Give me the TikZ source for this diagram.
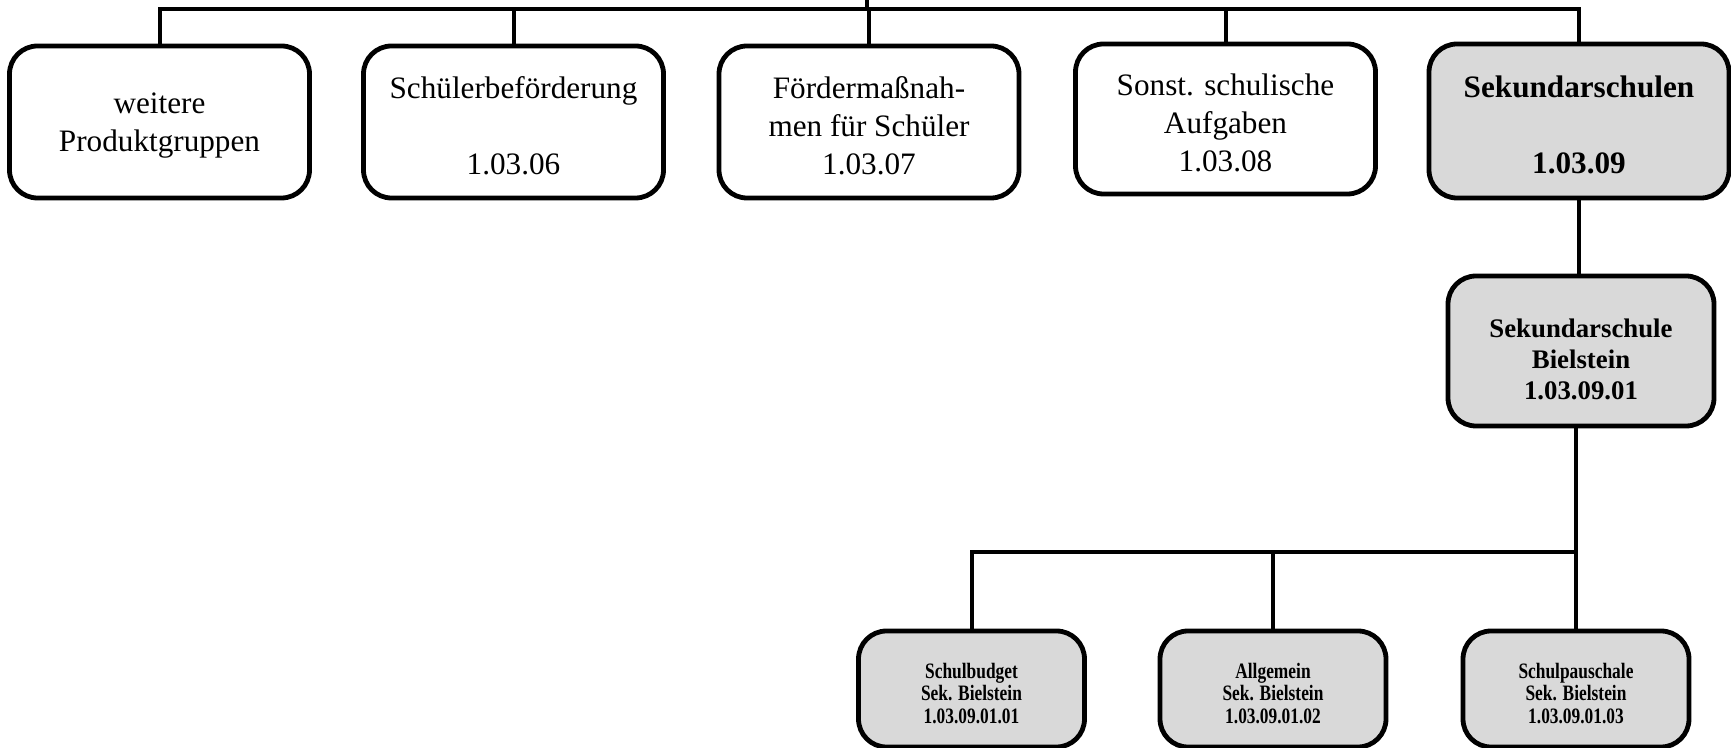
\documentclass[tikz,border=0pt]{standalone}
\usepackage{fontspec}
\setmainfont{Liberation Serif}
\definecolor{boxgray}{HTML}{D9D9D9}
\begin{document}
\begin{tikzpicture}[x=0.5pt,y=-0.5pt,
  pbox/.style={draw=black, line width=2.4pt, rounded corners=14pt, inner sep=0pt},
  upper/.style={pbox, minimum width=150pt, minimum height=76pt},
  shaded/.style={fill=boxgray},
  mid/.style={pbox, shaded, minimum width=133pt, minimum height=75pt},
  leaf/.style={pbox, shaded, minimum width=113pt, minimum height=58pt},
  toptext/.style={align=center, inner sep=0pt, yshift=-1.8pt,
    font=\fontsize{15.6}{19}\selectfont},
  topbold/.style={toptext, font=\bfseries\fontsize{15.6}{19}\selectfont},
  midtext/.style={align=center, inner sep=0pt, yshift=-4pt,
    font=\bfseries\fontsize{13.4}{15.5}\selectfont},
  leaftext/.style={align=center, inner sep=0pt, yshift=-2.2pt,
    font=\bfseries\fontsize{11}{11.3}\selectfont\addfontfeature{FakeStretch=0.79}},
  link/.style={line width=2pt}]
\useasboundingbox (0,0) rectangle (1731,748);

% product groups
\node[upper, label={[toptext]center:{weitere\\Produktgruppen}}] (b1) at (159.5,122) {};
\node[upper, label={[toptext]center:{Schülerbeförderung\\\mbox{}\\1.03.06}}] (b2) at (513.5,122) {};
\node[upper, label={[toptext]center:{Fördermaßnah-\\men für Schüler\\1.03.07}}] (b3) at (869,122) {};
\node[upper, minimum height=75pt,
  label={[toptext]center:{Sonst. schulische\\Aufgaben\\1.03.08}}] (b4) at (1225.5,119) {};
\node[upper, shaded, minimum height=77pt,
  label={[topbold]center:{Sekundarschulen\\\mbox{}\\1.03.09}}] (b5) at (1579,121) {};

% school
\node[mid, label={[midtext]center:{Sekundarschule\\Bielstein\\1.03.09.01}}] (b6) at (1581,351) {};

% sub-products
\node[leaf, label={[leaftext]center:{Schulbudget\\Sek. Bielstein\\1.03.09.01.01}}] (c1) at (971.5,689) {};
\node[leaf, label={[leaftext]center:{Allgemein\\Sek. Bielstein\\1.03.09.01.02}}] (c2) at (1273,689) {};
\node[leaf, label={[leaftext]center:{Schulpauschale\\Sek. Bielstein\\1.03.09.01.03}}] (c3) at (1576,689) {};

% connectors
\coordinate (topbar) at (0,9);
\coordinate (topin) at (867,0);
\coordinate (subbar) at (0,552);

\draw[link] (b1.north) -- (b1.north |- topbar) -- (b5.north |- topbar) -- (b5.north);
\draw[link] (b2.north) -- (b2.north |- topbar);
\draw[link] (b3.north) -- (b3.north |- topbar);
\draw[link] (b4.north) -- (b4.north |- topbar);
\draw[link] (topin) -- (topin |- topbar);

\draw[link] (b5.south) -- (b5.south |- b6.north);
\draw[link] (c3.north |- b6.south) -- (c3.north);
\draw[link] (c1.north) -- (c1.north |- subbar) -- (c3.north |- subbar);
\draw[link] (c2.north) -- (c2.north |- subbar);
\end{tikzpicture}
\end{document}
